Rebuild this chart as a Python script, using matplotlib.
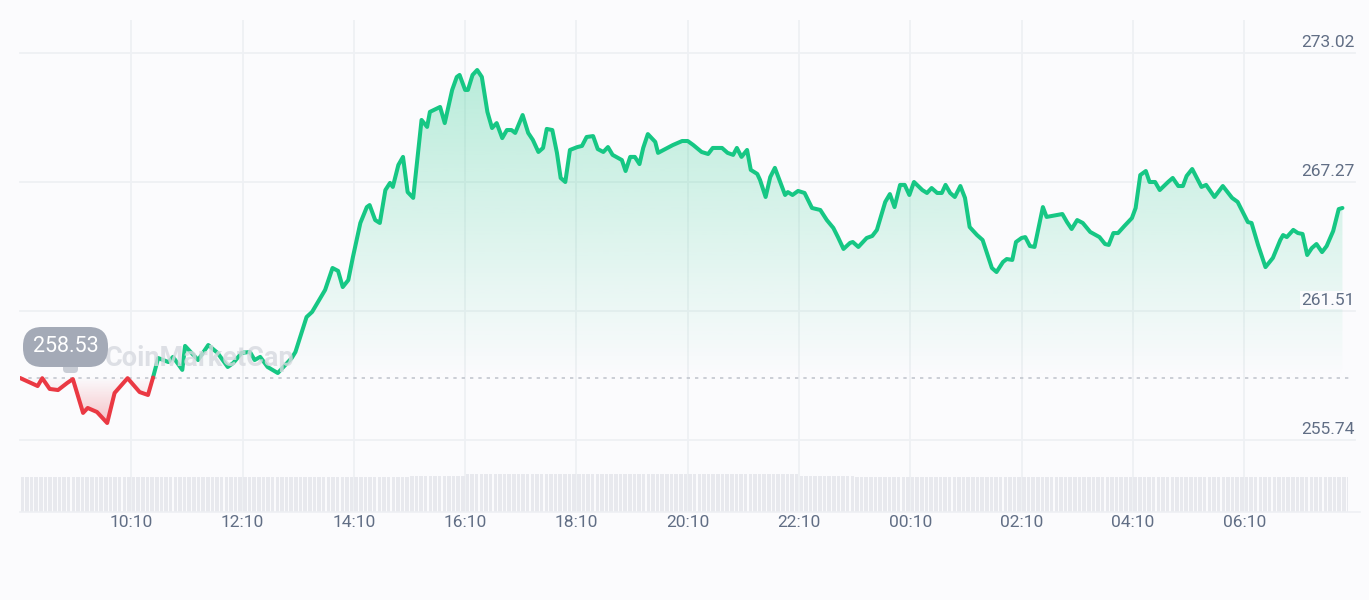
import matplotlib.pyplot as plt
import matplotlib.transforms as mtransforms
from matplotlib.colors import to_rgb
from matplotlib.path import Path
from matplotlib.patches import FancyBboxPatch
import numpy as np

plt.rcParams['font.family'] = ['Roboto', 'DejaVu Sans']

# price trace, minutes after 08:10
minutes = [0, 19, 24, 32, 41, 51, 57, 68, 73, 83, 94, 102, 116, 129, 138, 143, 149, 160, 165, 175,
           178, 192, 203, 213, 224, 230, 239, 248, 253, 259, 267, 278, 293, 297, 309, 315, 329, 337, 343, 348,
           354, 359, 367, 374, 377, 383, 388, 394, 399, 402, 408, 413, 418, 424, 433, 439, 442, 453, 458, 466,
           471, 474, 480, 483, 488, 493, 498, 504, 509, 514, 520, 525, 530, 534, 542, 548, 553, 559, 564, 568,
           574, 579, 583, 588, 593, 601, 606, 611, 618, 623, 629, 634, 639, 649, 653, 658, 663, 668, 672, 677,
           685, 688, 698, 704, 714, 720, 726, 735, 742, 747, 757, 763, 769, 773, 778, 784, 788, 795, 798, 804,
           809, 814, 825, 828, 833, 839, 846, 854, 863, 870, 877, 882, 888, 895, 898, 904, 913, 919, 924, 933,
           938, 943, 949, 954, 959, 964, 973, 978, 983, 989, 994, 998, 1003, 1008, 1014, 1019, 1024, 1032, 1038, 1048,
           1053, 1060, 1064, 1070, 1074, 1080, 1084, 1089, 1094, 1103, 1107, 1124, 1129, 1134, 1140, 1146, 1154, 1164, 1170, 1174,
           1179, 1184, 1191, 1199, 1203, 1208, 1214, 1218, 1224, 1229, 1238, 1243, 1249, 1254, 1258, 1264, 1269, 1274, 1279, 1288,
           1297, 1307, 1313, 1319, 1324, 1328, 1335, 1343, 1351, 1359, 1362, 1366, 1373, 1378, 1383, 1388, 1393, 1398, 1404, 1409,
           1416, 1422, 1426]
prices = [258.51, 258.15, 258.50, 258.02, 257.97, 258.29, 258.46, 256.95, 257.17, 256.99, 256.50, 257.84, 258.50, 257.88, 257.75, 258.46, 259.40, 259.22, 259.45, 258.87,
          259.94, 259.31, 259.98, 259.63, 259.00, 259.18, 259.63, 259.67, 259.31, 259.45, 259.00, 258.73, 259.40, 259.67, 261.23, 261.46, 262.44, 263.42, 263.29, 262.57,
          262.88, 263.91, 265.43, 266.14, 266.23, 265.56, 265.43, 266.90, 267.22, 267.04, 268.02, 268.38, 266.81, 266.55, 270.03, 269.72, 270.39, 270.61, 269.89, 271.37,
          271.95, 272.04, 271.37, 271.37, 272.04, 272.26, 271.95, 270.39, 269.67, 269.89, 269.22, 269.58, 269.58, 269.45, 270.25, 269.45, 269.14, 268.60, 268.78, 269.63,
          269.58, 268.56, 267.44, 267.26, 268.69, 268.82, 268.87, 269.27, 269.31, 268.73, 268.60, 268.82, 268.47, 268.24, 267.75, 268.38, 268.38, 268.06, 268.78, 269.40,
          269.05, 268.56, 268.78, 268.91, 269.09, 269.09, 268.91, 268.60, 268.51, 268.78, 268.78, 268.56, 268.47, 268.78, 268.38, 268.69, 267.80, 267.62, 267.35, 266.59,
          267.48, 267.89, 266.68, 266.81, 266.68, 266.86, 266.77, 266.10, 266.01, 265.56, 265.21, 264.80, 264.27, 264.54, 264.58, 264.36, 264.76, 264.85, 265.12, 266.37,
          266.72, 266.14, 267.13, 267.13, 266.68, 267.26, 266.90, 266.77, 266.99, 266.77, 266.77, 267.13, 266.77, 266.59, 267.08, 266.55, 265.25, 264.89, 264.67, 263.42,
          263.24, 263.69, 263.82, 263.78, 264.58, 264.76, 264.80, 264.40, 264.36, 266.14, 265.70, 265.83, 265.47, 265.16, 265.56, 265.43, 265.03, 264.80, 264.49, 264.45,
          264.98, 264.98, 265.30, 265.65, 266.10, 267.57, 267.75, 267.26, 267.26, 266.90, 267.26, 267.44, 267.08, 267.08, 267.53, 267.84, 267.44, 267.04, 267.13, 266.59,
          267.08, 266.55, 266.37, 265.88, 265.47, 265.43, 264.45, 263.46, 263.87, 264.67, 264.89, 264.80, 265.12, 264.98, 264.94, 264.00, 264.31, 264.49, 264.13, 264.40,
          265.07, 266.05, 266.10]

BASE = 258.53
ytick_vals = [273.02, 267.27, 261.51, 255.74]
xtick_pos = [120, 240, 360, 480, 600, 720, 840, 960, 1080, 1200, 1320]
xtick_labels = ['10:10', '12:10', '14:10', '16:10', '18:10', '20:10', '22:10', '00:10', '02:10', '04:10', '06:10']
# volume per hour (relative), drawn as 5 minute bars
vol_hourly = [35, 35, 35, 35, 35, 35, 35, 36, 38, 38, 38, 38, 38, 38,
              36, 35, 35, 35, 35, 35, 35, 35, 35, 35]

bg = '#fbfbfd'
green = '#16c784'
red = '#ea3943'
grid_c = '#eef0f4'
text_c = '#616e85'

fig = plt.figure(figsize=(13.69, 6.0), dpi=100, facecolor=bg)
ax = fig.add_axes([20/1369, 1-512/600, 1328/1369, 492/600])
ax.set_facecolor('none')
for s in ax.spines.values():
    s.set_visible(False)

# insert baseline crossings so colours switch cleanly
t = np.array(minutes, dtype=float)
v = np.array(prices)
tt, vv = [t[0]], [v[0]]
for i in range(1, len(t)):
    a, b = v[i-1] - BASE, v[i] - BASE
    if a * b < 0:
        f = a / (a - b)
        tt.append(t[i-1] + f * (t[i] - t[i-1]))
        vv.append(BASE)
    tt.append(t[i])
    vv.append(v[i])
tt, vv = np.array(tt), np.array(vv)


def gradient_fill(where, color, y0, y1, a0, a1):
    poly = ax.fill_between(tt, vv, BASE, where=where, facecolor='none', edgecolor='none')
    path = Path.make_compound_path(*poly.get_paths())
    grad = np.zeros((200, 1, 4))
    grad[:, :, :3] = to_rgb(color)
    grad[:, 0, 3] = np.linspace(a0, a1, 200)
    im = ax.imshow(grad, extent=[tt.min(), tt.max(), y0, y1], origin='lower',
                   aspect='auto', zorder=1, interpolation='bilinear')
    im.set_clip_path(path, transform=ax.transData)


gradient_fill(vv >= BASE, green, BASE, 272.4, 0.0, 0.29)
gradient_fill(vv <= BASE, red, 256.3, BASE, 0.32, 0.0)

up = np.ma.masked_where(vv < BASE, vv)
down = np.ma.masked_where(vv > BASE, vv)
ax.plot(tt, up, color=green, lw=2.9, zorder=4, solid_joinstyle='round', solid_capstyle='round')
ax.plot(tt, down, color=red, lw=2.9, zorder=4, solid_joinstyle='round', solid_capstyle='round')

ax.axhline(BASE, xmax=1.002, color='#c3c7cf', lw=1.2, ls=(0, (2, 3)), zorder=2, clip_on=False)
for y in ytick_vals:
    ax.axhline(y, xmax=1.0055, color=grid_c, lw=1.3, zorder=0.5, clip_on=False)
    ax.annotate(f'{y:.2f}', xy=(1.0053, y), xycoords=('axes fraction', 'data'),
                xytext=(0, 4.5), textcoords='offset points', ha='right', va='baseline',
                fontsize=12.5, color=text_c, zorder=5,
                bbox=dict(boxstyle='square,pad=0.1', facecolor=bg, edgecolor='none'))
for x in xtick_pos:
    ax.axvline(x, color=grid_c, lw=1.3, zorder=0.5)

ax.set_xlim(0, 1432)
ax.set_ylim(252.525, 274.493)
ax.set_yticks([])
ax.set_xticks(xtick_pos)
ax.set_xticklabels(xtick_labels, fontsize=12.5, color=text_c)
ax.tick_params(axis='x', length=0, pad=2)

# volume bars
vax = fig.add_axes([20/1369, 1-512/600, 1328/1369, 42/600])
vax.set_facecolor('none')
vol = np.repeat(vol_hourly, 12)
vax.bar(np.arange(len(vol)) * 5 + 2.5, vol, width=3.8, color='#e8e9ee', zorder=1)
vax.axhline(0, xmax=1.009, color=grid_c, lw=1.2, clip_on=False)
vax.set_xlim(0, 1432)
vax.set_ylim(0, 42)
vax.axis('off')

# watermark and last-open bubble
fig.text(105/1369, 1-358/600, 'CoinMarketCap', fontsize=19.5, fontweight='bold',
         color='#d6d9df', alpha=0.8, ha='left', va='center', zorder=3)
px = mtransforms.IdentityTransform()
fig.add_artist(FancyBboxPatch((63, 600-373), 15, 10, boxstyle='round,pad=0,rounding_size=4',
                              transform=px, facecolor='#c9cdd5', edgecolor='none', zorder=5))
fig.add_artist(FancyBboxPatch((23, 600-367), 85, 40, boxstyle='round,pad=0,rounding_size=19',
                              transform=px, facecolor='#a4aab7', edgecolor='none', zorder=5))
fig.text(65.5/1369, 1-347/600, '258.53', fontsize=15.5, color='white', ha='center', va='center',
         zorder=6)

fig.savefig('out.png', dpi=100, facecolor=bg)
